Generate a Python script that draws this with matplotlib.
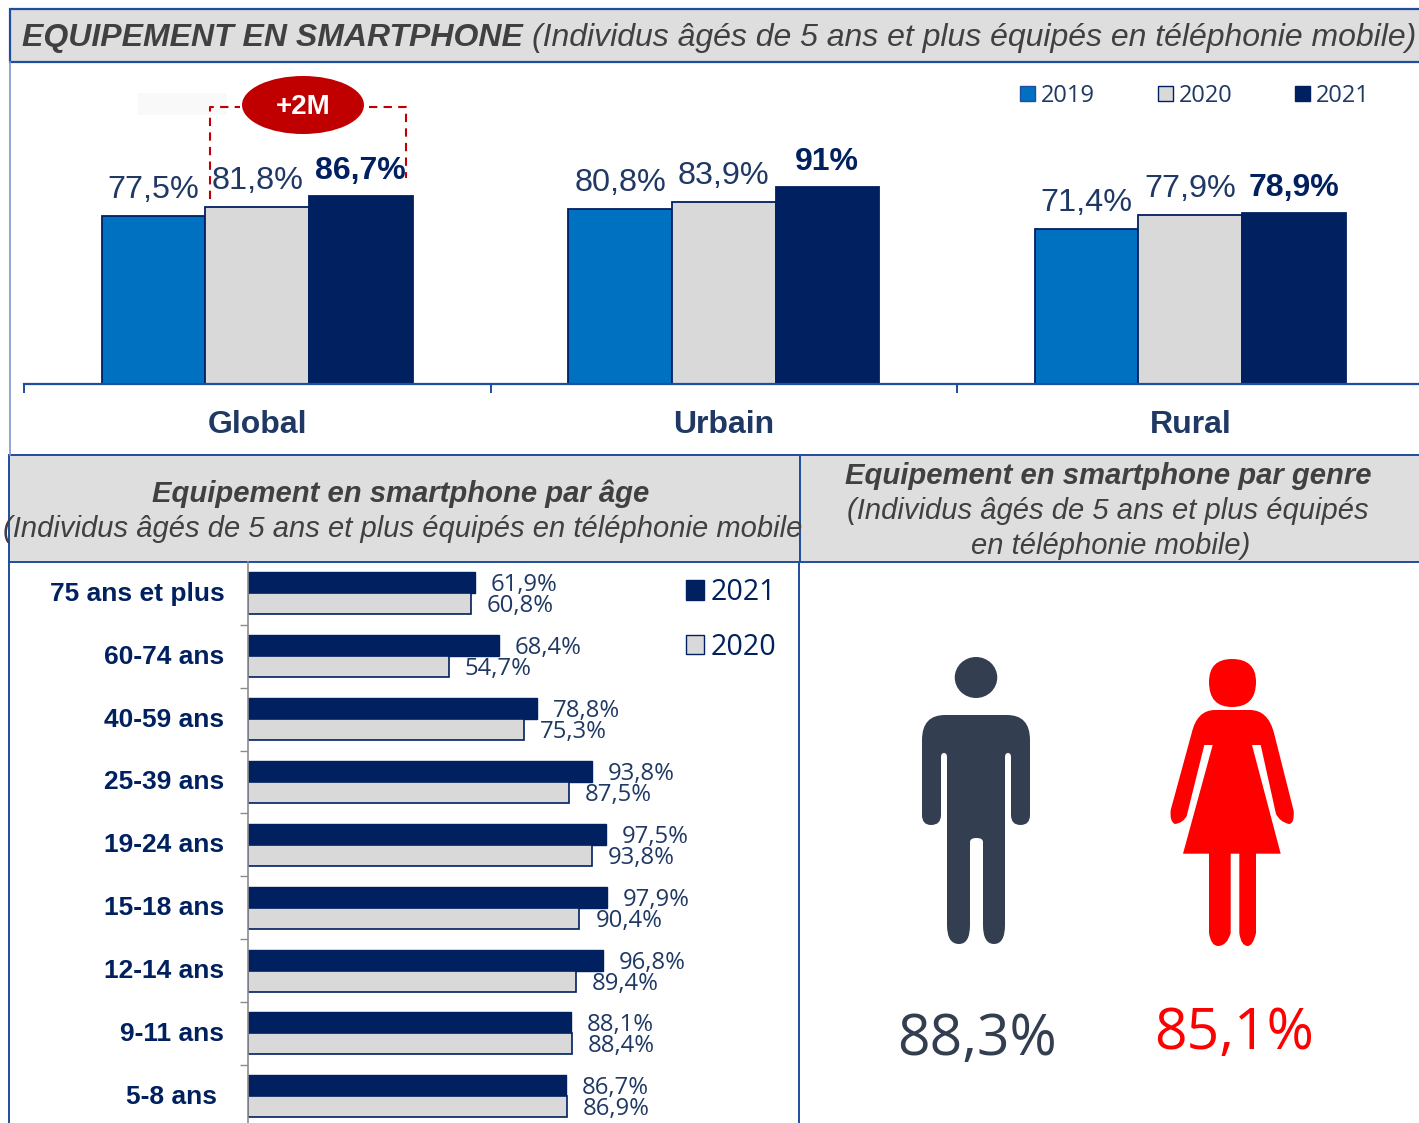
import matplotlib
matplotlib.use("Agg")
import matplotlib.pyplot as plt
from matplotlib.patches import Rectangle, Ellipse, PathPatch, Patch
from matplotlib.path import Path
from matplotlib.transforms import ScaledTranslation

# ---------- data ----------
groups = ["Global", "Urbain", "Rural"]
years = ["2019", "2020", "2021"]
v2019 = [77.5, 80.8, 71.4]
v2020 = [81.8, 83.9, 77.9]
v2021 = [86.7, 91.0, 78.9]
lab2019 = ["77,5%", "80,8%", "71,4%"]
lab2020 = ["81,8%", "83,9%", "77,9%"]
lab2021 = ["86,7%", "91%", "78,9%"]

ages = ["75 ans et plus", "60-74 ans", "40-59 ans", "25-39 ans", "19-24 ans",
        "15-18 ans", "12-14 ans", "9-11 ans", "5-8 ans"]
age2021 = [61.9, 68.4, 78.8, 93.8, 97.5, 97.9, 96.8, 88.1, 86.7]
age2020 = [60.8, 54.7, 75.3, 87.5, 93.8, 90.4, 89.4, 88.4, 86.9]
gender_labels = ["88,3%", "85,1%"]

BLUE, GREY, NAVY = "#0070C0", "#D9D9D9", "#002060"
LINE, TXT, HEAD, DARK = "#1F4E9E", "#1F3864", "#DEDEDE", "#333F50"
SANS = "Liberation Sans"
W, H = 1419, 1123

fig = plt.figure(figsize=(W / 100, H / 100), dpi=100)

def axpx(x0, y0, x1, y1, **kw):
    return fig.add_axes([x0 / W, 1 - y1 / H, (x1 - x0) / W, (y1 - y0) / H], **kw)

# ---------- pixel canvas for bands, callout, icons ----------
bg = axpx(0, 0, W, H)
bg.set_xlim(0, W); bg.set_ylim(H, 0); bg.axis("off")
bg.add_patch(Rectangle((10, 9), W, 53, fc=HEAD, ec=LINE, lw=1.6))
bg.add_patch(Rectangle((9, 455), 790.5, 107, fc=HEAD, ec=LINE, lw=1.4))
bg.add_patch(Rectangle((799.5, 455), W, 107, fc=HEAD, ec=LINE, lw=1.4))
bg.plot([9.5, 9.5], [62, 455], color="#7F97C8", lw=1.2)
bg.plot([8.5, 8.5], [562, H], color=LINE, lw=1.4)
bg.plot([799, 799], [562, H], color=LINE, lw=1.4)

bg.text(22, 38, "EQUIPEMENT EN SMARTPHONE", family=SANS, weight="bold", style="italic",
        size=23, color="#404040", va="center", ha="left")
bg.text(532, 38, "(Individus âgés de 5 ans et plus équipés en téléphonie mobile)", family=SANS,
        style="italic", size=23, color="#404040", va="center", ha="left")
bg.text(401, 494, "Equipement en smartphone par âge", family=SANS, weight="bold", style="italic",
        size=21.1, color="#404040", va="center", ha="center")
bg.text(403, 529, "(Individus âgés de 5 ans et plus équipés en téléphonie mobile", family=SANS,
        style="italic", size=21, color="#404040", va="center", ha="center")
bg.text(1108, 476, "Equipement en smartphone par genre", family=SANS, weight="bold", style="italic",
        size=21.1, color="#404040", va="center", ha="center")
bg.text(1108, 511, "(Individus âgés de 5 ans et plus équipés", family=SANS,
        style="italic", size=21, color="#404040", va="center", ha="center")
bg.text(1111, 546, "en téléphonie mobile)", family=SANS,
        style="italic", size=21, color="#404040", va="center", ha="center")

# ---------- top chart ----------
ax = axpx(24, 70, 1423.5, 384)
ax.patch.set_alpha(0)
bw = 103.6 / 466.5
ppp = 2.167
ax.set_xlim(-0.5, 2.5)
ax.set_ylim(0, 314 / ppp)
series = [(v2019, lab2019, BLUE, NAVY, -1), (v2020, lab2020, GREY, NAVY, 0), (v2021, lab2021, NAVY, NAVY, 1)]
for vals, labs, fc, ec, k in series:
    xs = [i + k * bw for i in range(3)]
    ax.bar(xs, vals, width=bw, color=fc, edgecolor=ec, linewidth=1.3, zorder=2)
    for x, v, t in zip(xs, vals, labs):
        bold = k == 1
        ax.annotate(t, (x, v), xytext=(0, 10 if bold else 11), textcoords="offset pixels",
                    ha="center", va="bottom", family=SANS, size=23 if bold else 23.3,
                    weight="bold" if bold else "normal", color=NAVY if bold else TXT)
for s in ("top", "left", "right"):
    ax.spines[s].set_visible(False)
ax.spines["bottom"].set_color(LINE); ax.spines["bottom"].set_linewidth(1.6)
ax.set_yticks([])
ax.set_xticks([-0.5, 0.5, 1.5])
ax.set_xticklabels([])
ax.tick_params(axis="x", which="major", length=6.5, width=1.4, color=LINE)
ax.set_xticks([0, 1, 2], minor=True)
ax.set_xticklabels(groups, minor=True, family=SANS, weight="bold", size=23, color=TXT)
ax.tick_params(axis="x", which="minor", length=0, pad=18.5)
h = [Patch(fc=BLUE, ec=LINE), Patch(fc=GREY, ec=NAVY), Patch(fc=NAVY, ec=NAVY)]
leg1 = bg.legend(h, years, ncol=3, loc="upper left", bbox_to_anchor=(1013 / W, 1 - 77 / H),
                 bbox_transform=fig.transFigure, frameon=False, prop={"family": "Open Sans", "size": 17},
                 handlelength=0.62, handleheight=0.62, handletextpad=0.25, columnspacing=2.68,
                 labelcolor=TXT, borderpad=0.3, borderaxespad=0)
bg.add_artist(leg1)

# callout
bg.add_patch(Rectangle((138, 93), 89, 22, fc="#F9F9F9", ec="none"))
red = "#C00000"
bg.plot([209.5, 209.5, 240], [199, 107, 107], color=red, lw=1.5, ls=(0, (4, 3)))
bg.plot([369, 406, 406], [107, 107, 178], color=red, lw=1.5, ls=(0, (4, 3)))
bg.add_patch(Ellipse((303, 105), 122, 58, fc=red, ec="none"))
bg.text(303, 107, "+2M", color="white", family=SANS, weight="bold", size=20, ha="center", va="center")

# ---------- age chart ----------
a2 = axpx(248, 562, 799, H)
a2.patch.set_alpha(0)
a2.set_xlim(0, 551 / 3.667)
rowpx = 62.85
a2.set_ylim((H - 562) / rowpx - 0.5, -0.5)
bh = 21 / rowpx
rows = list(range(len(ages)))
a2.barh([r - bh / 2 for r in rows], age2021, height=bh, color=NAVY, edgecolor=NAVY, linewidth=1, zorder=2)
a2.barh([r + bh / 2 for r in rows], age2020, height=bh, color=GREY, edgecolor=NAVY, linewidth=1.2, zorder=2)
for r, a, b in zip(rows, age2021, age2020):
    for val, dy in ((a, -8), (b, 13)):
        a2.annotate(f"{val:.1f}%".replace(".", ","), (val, r), xytext=(16, -dy), textcoords="offset pixels",
                    ha="left", va="center", family="Open Sans", size=17.2, color=TXT, annotation_clip=False)
for s in ("top", "right", "bottom"):
    a2.spines[s].set_visible(False)
a2.spines["left"].set_color("#8C8C8C"); a2.spines["left"].set_linewidth(1.2)
a2.set_xticks([])
a2.set_yticks([r + 0.5 for r in rows[:-1]])
a2.set_yticklabels([])
a2.tick_params(axis="y", which="major", length=6, width=1, color="#8C8C8C")
a2.set_yticks(rows, minor=True)
a2.set_yticklabels(ages, minor=True, family=SANS, weight="bold", size=19, color=NAVY)
a2.tick_params(axis="y", which="minor", length=0, pad=17)
minor_ticks = a2.yaxis.get_minor_ticks()
minor_ticks[-1].set_pad(22)
for t in a2.get_yticklabels(minor=True):
    t.set_transform(t.get_transform() + ScaledTranslation(0, 2 / 100, fig.dpi_scale_trans))
h2 = [Patch(fc=NAVY, ec=NAVY), Patch(fc=GREY, ec=NAVY)]
leg2 = bg.legend(h2, ["2021", "2020"], loc="upper left", bbox_to_anchor=(677 / W, 1 - 569.5 / H),
                 bbox_transform=fig.transFigure, frameon=False, prop={"family": "Open Sans", "size": 20.6},
                 handlelength=0.66, handleheight=0.66, handletextpad=0.22, labelspacing=0.9,
                 labelcolor=NAVY, borderpad=0.3, borderaxespad=0)

# ---------- gender icons ----------
M, L, Q, Z = Path.MOVETO, Path.LINETO, Path.CURVE3, Path.CLOSEPOLY
def shape(start, segs, color):
    vs, cs = [start], [M]
    for s in segs:
        if len(s) == 2:
            vs.append(s); cs.append(L)
        else:
            vs += [(s[0], s[1]), (s[2], s[3])]; cs += [Q, Q]
    vs.append(start); cs.append(Z)
    bg.add_patch(PathPatch(Path(vs, cs), fc=color, ec="none"))

man = [(922, 715, 945, 715), (1007, 715), (1030, 715, 1030, 740), (1030, 815), (1030, 825, 1020.5, 825),
       (1011, 825, 1011, 815), (1011, 757), (1011, 753, 1008, 753), (1005, 753, 1005, 757), (1005, 925),
       (1005, 944, 994, 944), (983, 944, 983, 925), (983, 842), (983, 838, 976.5, 838), (970, 838, 970, 842),
       (970, 925), (970, 944, 959, 944), (947, 944, 947, 925), (947, 757), (947, 753, 944, 753),
       (941, 753, 941, 757), (941, 815), (941, 825, 931, 825), (922, 825, 922, 815)]
shape((922, 740), man, DARK)
bg.add_patch(Ellipse((976, 677.5), 42.5, 41, fc=DARK, ec="none"))

woman = [(1197, 710, 1215, 710), (1250, 710), (1268, 710, 1274, 733), (1293.7, 811), (1294.5, 824, 1289, 824),
         (1280, 822, 1276, 814), (1260.7, 745), (1252, 745), (1280.7, 853.7), (1256, 853.7), (1256, 933),
         (1253, 946, 1247.7, 946), (1241, 946, 1239.3, 933), (1239.3, 853.7), (1230.7, 853.7), (1230.7, 933),
         (1227, 946, 1218, 946), (1211, 946, 1209, 933), (1209, 853.7), (1183, 853.7), (1212.7, 745),
         (1204.3, 745), (1186.7, 816), (1183, 823, 1175, 824), (1169.5, 822, 1170.7, 810)]
shape((1191.7, 733), woman, "#FF0000")
head = [(1209, 659, 1232, 659), (1256, 659, 1256, 682), (1256, 707, 1232, 707), (1209, 707, 1209, 682)]
shape((1209, 682), head, "#FF0000")

bg.text(977, 1041, gender_labels[0], family="Open Sans", size=41, color=DARK, ha="center", va="center")
bg.text(1234, 1035, gender_labels[1], family="Open Sans", size=41, color="#FF0000", ha="center", va="center")

fig.savefig("out.png", dpi=100)
